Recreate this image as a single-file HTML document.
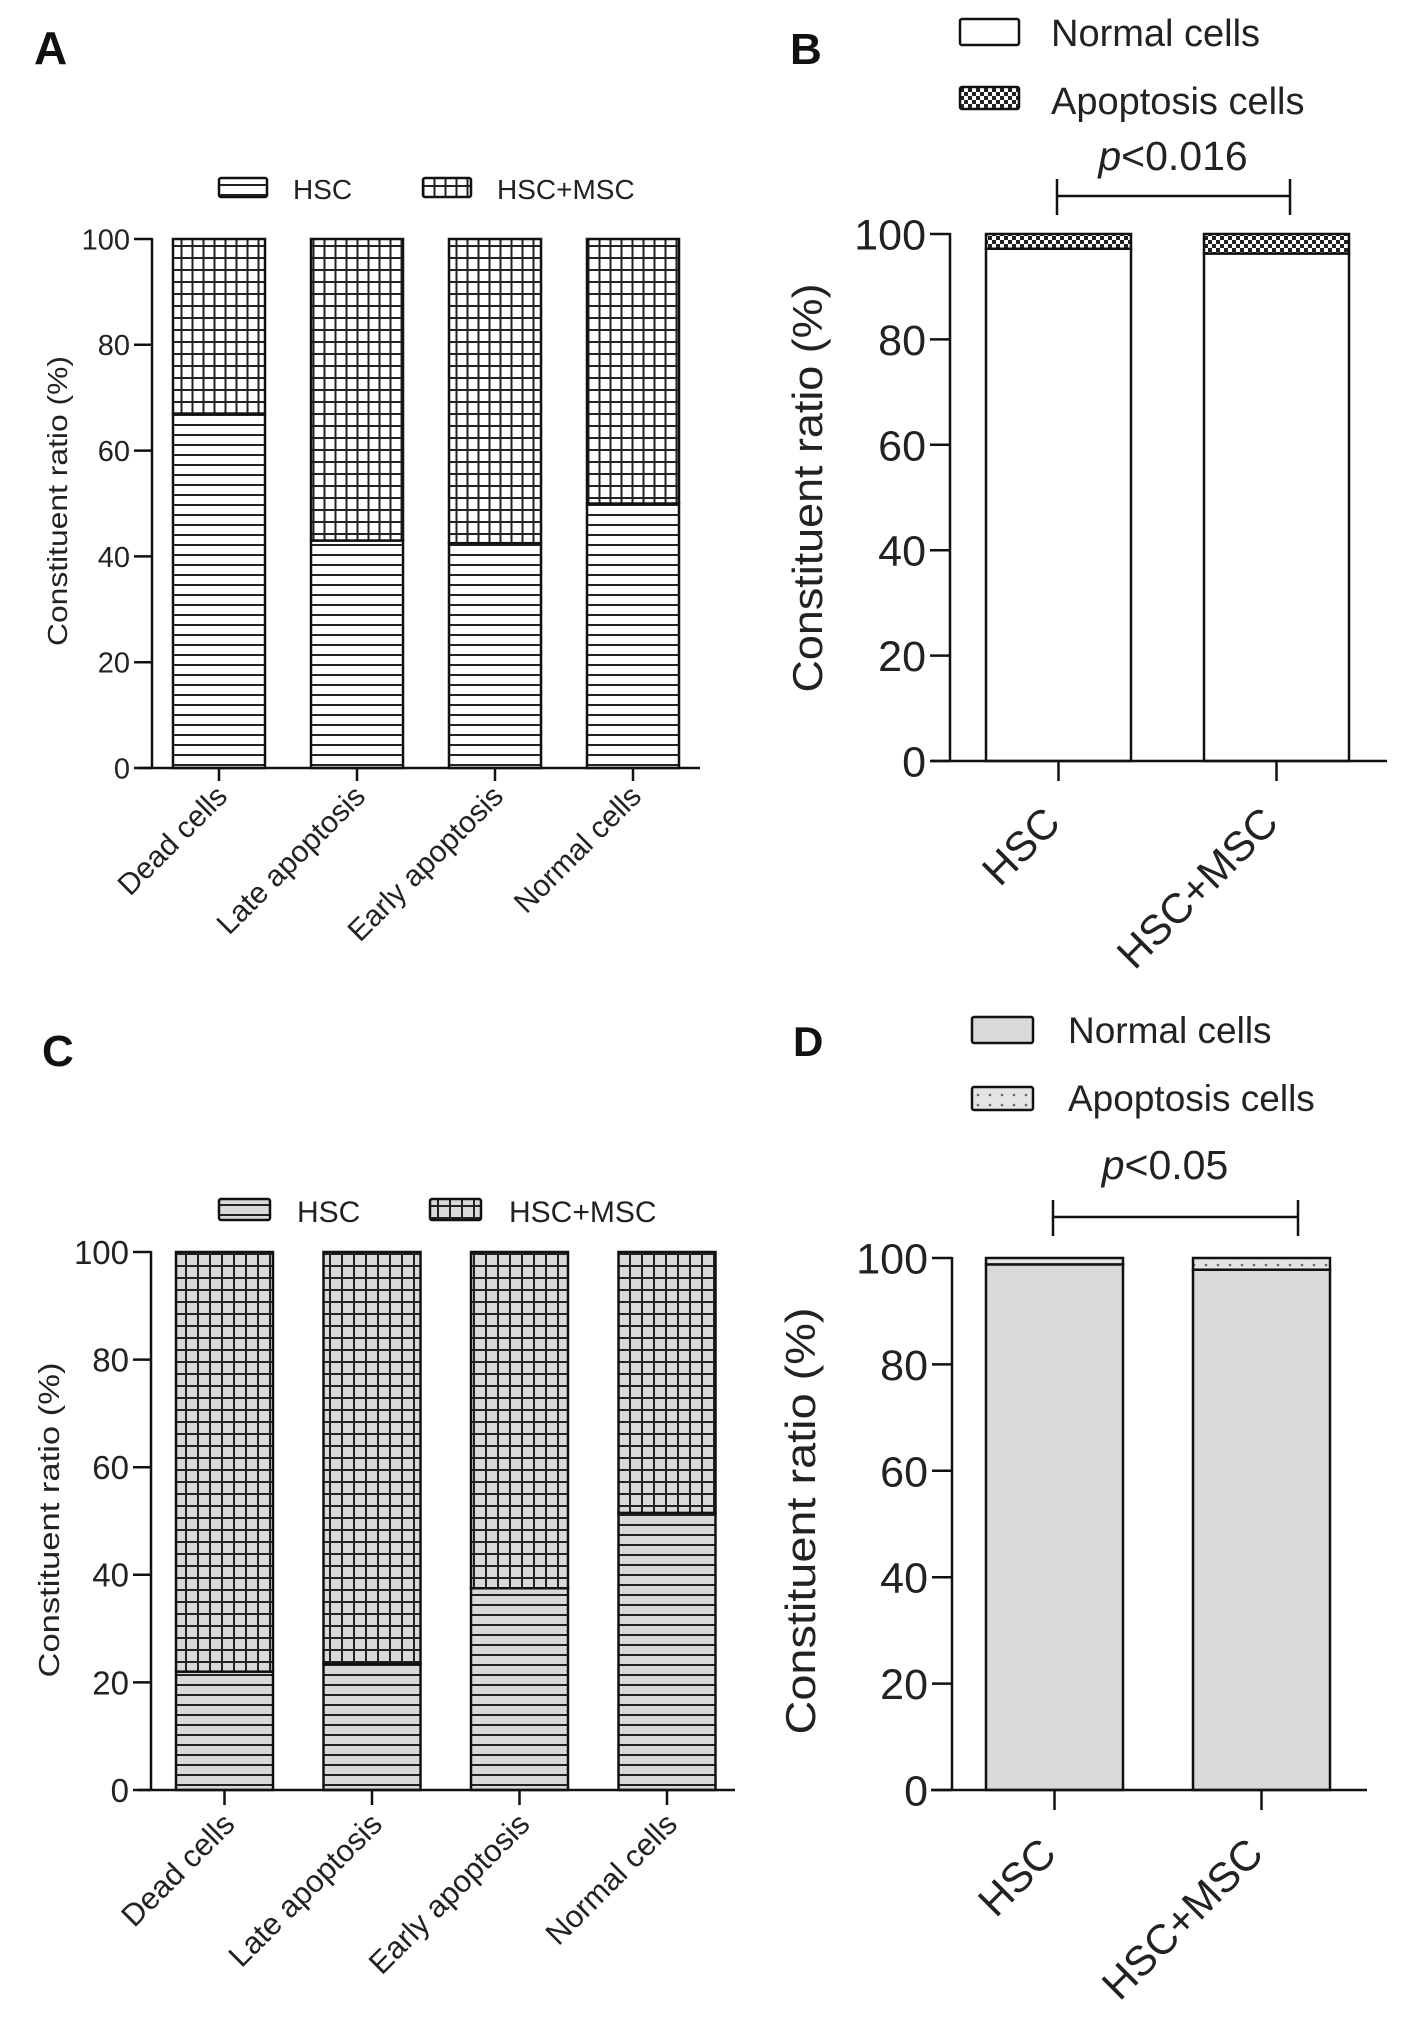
<!DOCTYPE html>
<html><head><meta charset="utf-8"><style>
html,body{margin:0;padding:0;background:#fff;}
svg{display:block;font-family:"Liberation Sans",Arial,sans-serif;}
</style></head><body>
<svg id="fig" width="1417" height="2037" viewBox="0 0 1417 2037" xmlns="http://www.w3.org/2000/svg">
<defs>
<pattern id="hs" patternUnits="userSpaceOnUse" width="12" height="10"><rect width="12" height="10" fill="#fff"/><line x1="0" y1="5" x2="12" y2="5" stroke="#222" stroke-width="2"/></pattern>
<pattern id="gr" patternUnits="userSpaceOnUse" width="11" height="12"><rect width="11" height="12" fill="#fff"/><line x1="0" y1="6" x2="11" y2="6" stroke="#222" stroke-width="2"/><line x1="5.5" y1="0" x2="5.5" y2="12" stroke="#222" stroke-width="2"/></pattern>
<pattern id="hsg" patternUnits="userSpaceOnUse" width="12" height="10"><rect width="12" height="10" fill="#d9d9d9"/><line x1="0" y1="5" x2="12" y2="5" stroke="#222" stroke-width="2"/></pattern>
<pattern id="grg" patternUnits="userSpaceOnUse" width="12" height="12"><rect width="12" height="12" fill="#d9d9d9"/><line x1="0" y1="6" x2="12" y2="6" stroke="#222" stroke-width="2"/><line x1="6" y1="0" x2="6" y2="12" stroke="#222" stroke-width="2"/></pattern>
<pattern id="ck" patternUnits="userSpaceOnUse" width="8" height="8"><rect width="8" height="8" fill="#fff"/><rect width="4" height="4" fill="#222"/><rect x="4" y="4" width="4" height="4" fill="#222"/></pattern>
<pattern id="dt" patternUnits="userSpaceOnUse" width="12" height="10"><rect width="12" height="10" fill="#e4e4e4"/><circle cx="6" cy="5" r="1.3" fill="#666"/></pattern>
</defs>
<g id="root"></g>
</svg>
<script>
// Panel A data
const catsA = ["Dead cells","Late apoptosis","Early apoptosis","Normal cells"];
const hscA = [67, 43, 42.5, 50];
// Panel C data
const catsC = ["Dead cells","Late apoptosis","Early apoptosis","Normal cells"];
const hscC = [22, 23.5, 37.5, 51.5];
// Panel B data
const catsB = ["HSC","HSC+MSC"];
const normalB = [97.2, 96.3];
// Panel D data
const catsD = ["HSC","HSC+MSC"];
const normalD = [98.8, 97.8];
const yTicks = [0, 20, 40, 60, 80, 100];
const pB = "<0.016";
const pD = "<0.05";

const NS = "http://www.w3.org/2000/svg";
const root = document.getElementById('root');
function el(tag, attrs, parent, text){
  const e = document.createElementNS(NS, tag);
  for (const k in attrs) e.setAttribute(k, attrs[k]);
  if (text !== undefined) e.textContent = text;
  (parent || root).appendChild(e);
  return e;
}

function panel(c){
  const g = el('g', {});
  
  
  const y = v => c.y0 + (c.y100 - c.y0) * v / 100;
  const L = el('text', {x:c.letter[0], y:c.letter[1], 'font-size':c.letter[2], 'font-weight':'bold', fill:'#111'}, g, c.letterText);
  
  
  c.cats.forEach((cat, i) => {
    const x = c.barX0 + i * c.pitch;
    const bg = el('g', {}, g);
    
    
    const v = c.vals[i];
    const r1 = el('rect', {x:x, y:y(v), width:c.barW, height:y(0) - y(v), fill:c.fill1, stroke:'#111', 'stroke-width':2.5}, bg);
    
    
    const r2 = el('rect', {x:x, y:y(100), width:c.barW, height:y(v) - y(100), fill:c.fill2, stroke:'#111', 'stroke-width':2.5}, bg);
    
    
    const tx = x + c.barW / 2;
    el('line', {x1:tx, y1:c.y0, x2:tx, y2:c.y0 + c.tickLen, stroke:'#111', 'stroke-width':2.5}, g);
    const t = el('text', {x:0, y:0, 'font-size':c.catFont, 'text-anchor':'end', fill:'#222',
      transform:`translate(${tx + c.catOff[0]},${c.y0 + c.catOff[1]}) rotate(-45)`}, g, cat);
    
    
  });
  const ya = el('line', {x1:c.axX, y1:y(100) - 1, x2:c.axX, y2:c.y0, stroke:'#111', 'stroke-width':2.5}, g);
  
  
  const xa = el('line', {x1:c.xaL, y1:c.y0, x2:c.xaR, y2:c.y0, stroke:'#111', 'stroke-width':2.5}, g);
  
  
  yTicks.forEach(v => {
    el('line', {x1:c.axX - c.ytickLen, y1:y(v), x2:c.axX, y2:y(v), stroke:'#111', 'stroke-width':2.5}, g);
    const t = el('text', {x:c.axX - c.ytickLen - 4, y:y(v) + c.tickFont * 0.36, 'font-size':c.tickFont, 'text-anchor':'end', fill:'#222'}, g, String(v));
    
    
  });
  const yt = el('text', {x:0, y:0, 'font-size':c.ytFont, 'text-anchor':'middle', fill:'#222', textLength:c.ytLen, lengthAdjust:'spacingAndGlyphs',
    transform:`translate(${c.ytX},${c.ytY}) rotate(-90)`}, g, 'Constituent ratio (%)');
  
  
  c.legend.forEach(le => {
    const lg = el('g', {}, g);
    
    
    el('rect', {x:le.bx, y:le.by, width:le.bw, height:le.bh, fill:le.fill, stroke:'#111', 'stroke-width':2.5, rx:2}, lg);
    el('text', {x:le.tx, y:le.ty, 'font-size':le.fs, fill:'#222'}, lg, le.label);
  });
  if (c.sig){
    const s = c.sig;
    const sg = el('g', {}, g);
    
    
    el('line', {x1:s.x1, y1:s.y, x2:s.x2, y2:s.y, stroke:'#111', 'stroke-width':2.5}, sg);
    el('line', {x1:s.x1, y1:s.y - 17, x2:s.x1, y2:s.y + 19, stroke:'#111', 'stroke-width':2.5}, sg);
    el('line', {x1:s.x2, y1:s.y - 17, x2:s.x2, y2:s.y + 19, stroke:'#111', 'stroke-width':2.5}, sg);
    const pt = el('text', {x:s.tx, y:s.ty, 'font-size':s.fs, 'text-anchor':'middle', fill:'#222'}, sg);
    el('tspan', {'font-style':'italic'}, pt, 'p');
    el('tspan', {}, pt, s.text);
  }
}

panel({name:'panel-a', letterText:'A', letter:[34,64,46], cats:catsA, vals:hscA, fill1:'url(#hs)', fill2:'url(#gr)',
  y0:768, y100:239, barX0:173, barW:92, pitch:138, axX:152, xaL:138, xaR:700, tickLen:13,
  catFont:30, catOff:[10,30], ytickLen:18, tickFont:29, ytFont:28, ytLen:290, ytX:67, ytY:501,
  legend:[{bx:219,by:178,bw:48,bh:19,fill:'url(#hs)',tx:293,ty:199,fs:28,label:'HSC'},
          {bx:423,by:178,bw:48,bh:19,fill:'url(#gr)',tx:497,ty:199,fs:28,label:'HSC+MSC'}]});

panel({name:'panel-c', letterText:'C', letter:[42,1066,44], cats:catsC, vals:hscC, fill1:'url(#hsg)', fill2:'url(#grg)',
  y0:1790, y100:1252, barX0:176, barW:97, pitch:147.5, axX:151, xaL:138, xaR:735, tickLen:15,
  catFont:31, catOff:[12,36], ytickLen:18, tickFont:33, ytFont:29, ytLen:315, ytX:59, ytY:1520,
  legend:[{bx:219,by:1199,bw:51,bh:21,fill:'url(#hsg)',tx:297,ty:1222,fs:30,label:'HSC'},
          {bx:430,by:1199,bw:51,bh:21,fill:'url(#grg)',tx:509,ty:1222,fs:30,label:'HSC+MSC'}]});

panel({name:'panel-b', letterText:'B', letter:[790,64,44], cats:catsB, vals:normalB, fill1:'#fff', fill2:'url(#ck)',
  y0:761, y100:234, barX0:986, barW:145, pitch:218, axX:950, xaL:931, xaR:1387, tickLen:20,
  catFont:42, catOff:[4,64], ytickLen:20, tickFont:43, ytFont:42, ytLen:409, ytX:822, ytY:488,
  legend:[{bx:960,by:19,bw:59,bh:26,fill:'#fff',tx:1051,ty:46,fs:38,label:'Normal cells'},
          {bx:960,by:87,bw:59,bh:22,fill:'url(#ck)',tx:1051,ty:114,fs:38,label:'Apoptosis cells'}],
  sig:{x1:1057,x2:1290,y:196,tx:1173,ty:170,fs:41,text:pB}});

panel({name:'panel-d', letterText:'D', letter:[793,1056,42], cats:catsD, vals:normalD, fill1:'#d9d9d9', fill2:'url(#dt)',
  y0:1790, y100:1258, barX0:986, barW:137, pitch:207, axX:952, xaL:931, xaR:1367, tickLen:20,
  catFont:42, catOff:[4,66], ytickLen:20, tickFont:43, ytFont:42, ytLen:427, ytX:815, ytY:1521,
  legend:[{bx:972,by:1017,bw:61,bh:26,fill:'#d9d9d9',tx:1068,ty:1043,fs:37,label:'Normal cells'},
          {bx:972,by:1087,bw:61,bh:23,fill:'url(#dt)',tx:1068,ty:1111,fs:37,label:'Apoptosis cells'}],
  sig:{x1:1053,x2:1298,y:1217,tx:1165,ty:1179,fs:41,text:pD}});
</script>
</body></html>
